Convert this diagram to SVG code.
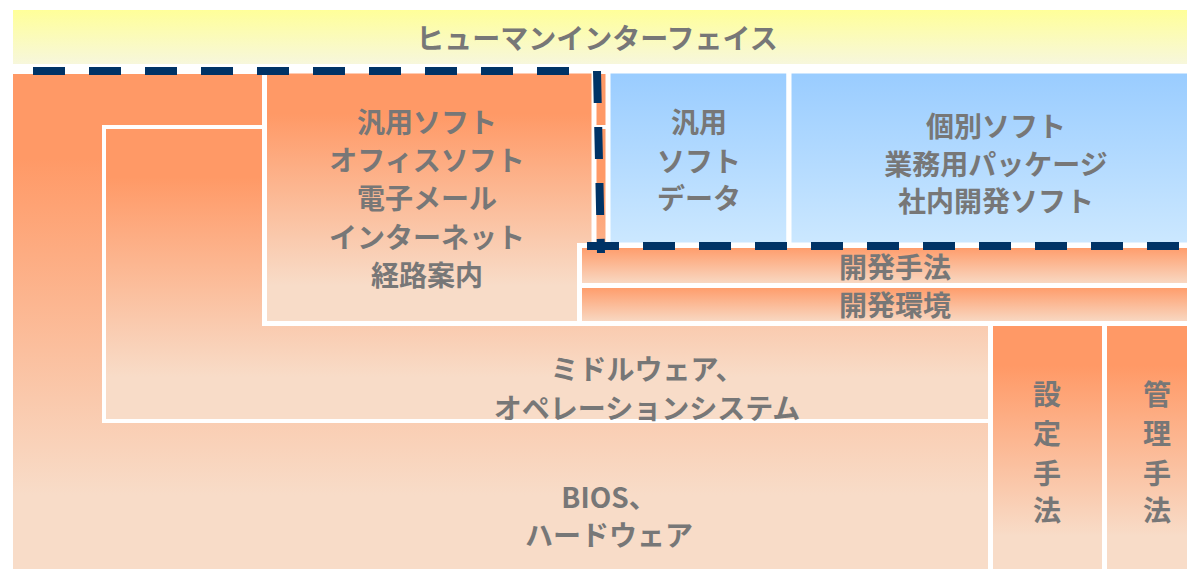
<svg xmlns="http://www.w3.org/2000/svg" width="1187" height="569" viewBox="0 0 1187 569">
  <defs>
    <linearGradient id="gOrange" x1="0" y1="0" x2="0" y2="1">
      <stop offset="0" stop-color="#FF9966"/>
      <stop offset="0.17" stop-color="#FF9966"/>
      <stop offset="0.85" stop-color="#F8DCC8"/>
      <stop offset="1" stop-color="#F8DCC8"/>
    </linearGradient>
    <linearGradient id="gStrip" x1="0" y1="0" x2="0" y2="1">
      <stop offset="0" stop-color="#FF9966"/>
      <stop offset="1" stop-color="#F8DCC8"/>
    </linearGradient>
    <linearGradient id="gBlue" x1="0" y1="0" x2="0" y2="1">
      <stop offset="0" stop-color="#99CCFF"/>
      <stop offset="1" stop-color="#CCE8FF"/>
    </linearGradient>
    <linearGradient id="gYellow" x1="0" y1="0" x2="0" y2="1">
      <stop offset="0" stop-color="#FFFF99"/>
      <stop offset="1" stop-color="#F7F7DC"/>
    </linearGradient>
  </defs>
  <style>
    .box { stroke: #FFFFFF; stroke-width: 5; }
    .thin { stroke-width: 4; }
    .org { fill: url(#gOrange); }
    .strip { fill: url(#gStrip); }
    .blue { fill: url(#gBlue); }
    .lbl { font-family: "Noto Sans CJK JP", "Noto Sans", sans-serif; font-size: 28px; font-weight: bold; fill: #777777; text-anchor: middle; }
    .dash { fill: none; stroke: #003366; stroke-width: 8; stroke-dasharray: 32 24; }
  </style>
  <rect width="1187" height="569" fill="#FFFFFF"/>

  <g id="bios">
    <rect x="13" y="74" width="977" height="495" class="org"/>
    <text class="lbl" x="609" y="508">BIOS、</text>
    <text class="lbl" x="609" y="546">ハードウェア</text>
  </g>

  <g id="middleware">
    <rect x="104" y="127" width="886" height="294" class="org box thin"/>
    <text class="lbl" x="647" y="380">ミドルウェア、</text>
    <text class="lbl" x="647" y="419">オペレーションシステム</text>
  </g>

  <g id="apps">
    <rect x="264.5" y="71" width="329.5" height="252.5" class="org box"/>
    <text class="lbl" x="427" y="133">汎用ソフト</text>
    <text class="lbl" x="427" y="171">オフィスソフト</text>
    <text class="lbl" x="427" y="209">電子メール</text>
    <text class="lbl" x="427" y="248">インターネット</text>
    <text class="lbl" x="427" y="286">経路案内</text>
  </g>

  <g id="general-data">
    <rect x="608" y="71" width="181" height="174" class="blue box"/>
    <text class="lbl" x="699" y="133">汎用</text>
    <text class="lbl" x="699" y="172">ソフト</text>
    <text class="lbl" x="699" y="209">データ</text>
  </g>

  <g id="custom-soft">
    <rect x="789" y="71" width="401" height="174" class="blue box"/>
    <text class="lbl" x="996" y="137">個別ソフト</text>
    <text class="lbl" x="996" y="175">業務用パッケージ</text>
    <text class="lbl" x="996" y="212">社内開発ソフト</text>
  </g>

  <g id="dev-method">
    <rect x="579.5" y="245.5" width="610" height="40" class="strip box"/>
    <text class="lbl" x="895" y="278">開発手法</text>
  </g>

  <g id="dev-env">
    <rect x="579.5" y="285.5" width="610" height="38" class="strip box"/>
    <text class="lbl" x="895" y="316">開発環境</text>
  </g>

  <g id="setting-method">
    <rect x="990.5" y="323.5" width="114" height="250" class="org box"/>
    <text class="lbl" x="1047" y="405">設</text>
    <text class="lbl" x="1047" y="444">定</text>
    <text class="lbl" x="1047" y="484">手</text>
    <text class="lbl" x="1047" y="521">法</text>
  </g>

  <g id="management-method">
    <rect x="1104.5" y="323.5" width="90" height="250" class="org box"/>
    <text class="lbl" x="1157" y="405">管</text>
    <text class="lbl" x="1157" y="444">理</text>
    <text class="lbl" x="1157" y="484">手</text>
    <text class="lbl" x="1157" y="521">法</text>
  </g>

  <g id="human-interface">
    <rect x="13" y="10" width="1174" height="54" fill="url(#gYellow)"/>
    <text class="lbl" x="597" y="49">ヒューマンインターフェイス</text>
  </g>

  <g id="connectors">
    <line x1="33" y1="71" x2="575" y2="71" class="dash"/>
    <line x1="597" y1="71" x2="601" y2="253" class="dash"/>
    <line x1="587" y1="246" x2="1187" y2="246" class="dash"/>
  </g>
</svg>
